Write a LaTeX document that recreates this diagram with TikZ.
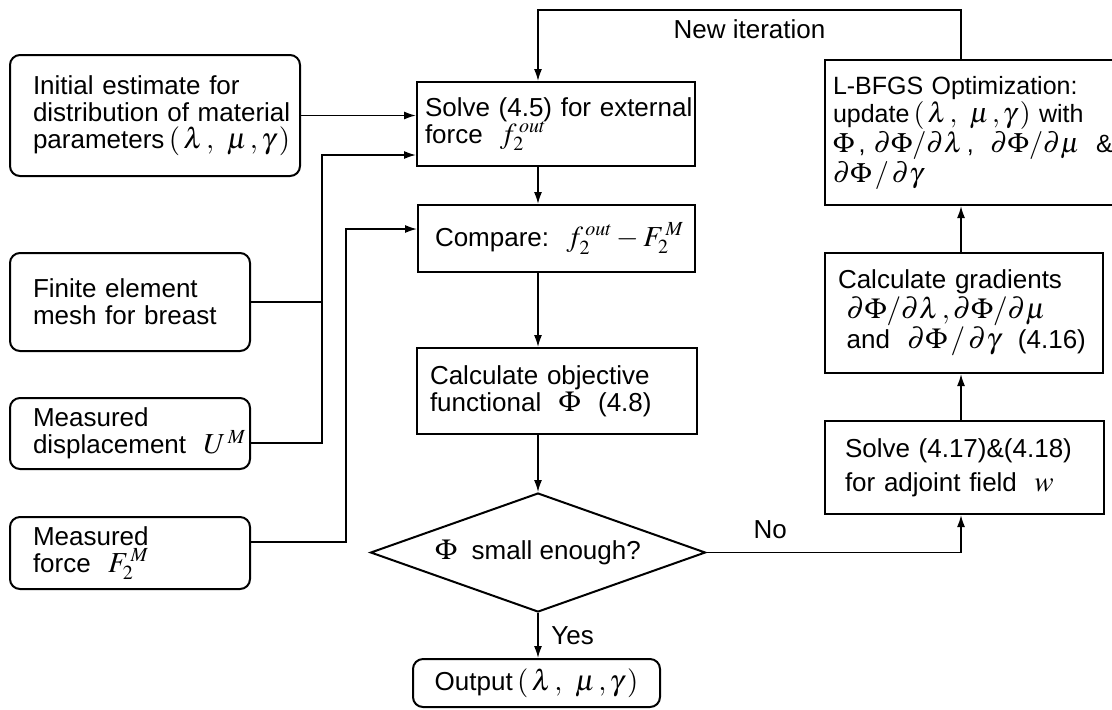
\documentclass[tikz,border=0pt]{standalone}
\usepackage{mathptmx}
\usepackage[no-math]{fontspec}
\setmainfont{Liberation Sans}
\usetikzlibrary{arrows.meta}
\usetikzlibrary{shapes.geometric}
\DeclareMathSizes{13}{14.5}{10}{8}
\DeclareMathSizes{12.5}{14}{10}{8}
\tikzset{
  box/.style={draw, line width=1pt, inner xsep=0pt, align=left},
  rbox/.style={box, rounded corners=5pt},
  arr/.style={-{Latex[length=6pt,width=4pt]}},
}

\begin{document}
\begin{tikzpicture}[x=0.5pt, y=-0.5pt, line width=0.8pt, font=\fontsize{13}{13.5}\selectfont]
      \useasboundingbox (0,0) rectangle (1112,709);
      \coordinate (ax) at (538,0);
      \coordinate (rx) at (961,0);
      \coordinate (topl) at (538,10);
      \coordinate (topr) at (961,10);
      \coordinate (ja) at (322,155);
      \coordinate (jb) at (346,229);

      \node[rbox, minimum width=145pt, minimum height=60.5pt, text width=122pt] (init) at (155,115.5)
        {\mbox{Initial estimate for}\\\mbox{distribution of material}\\\mbox{parameters\,$(\,\lambda\,,\;\,\mu\,,\gamma\,)$}};
      \node[rbox, minimum width=120pt, minimum height=49pt, text width=97pt] (fem) at (130,302)
        {\mbox{Finite element}\\\mbox{mesh for breast}};
      \node[rbox, minimum width=120pt, minimum height=35.5pt, text width=97pt] (disp) at (130,433.5)
        {Measured\\\mbox{displacement\ \ $U^{\,M}$}};
      \node[rbox, minimum width=120pt, minimum height=36pt, text width=97pt] (force) at (130,553)
        {Measured\\\mbox{force\ \ $F_2^{\,M}$}};

      \node[box, minimum width=139pt, minimum height=42pt, text width=131pt] (solve) at (556,124)
        {\mbox{Solve (4.5) for external}\\\mbox{force\ \ $f_2^{\,out}$}};
      \node[box, minimum width=138.5pt, minimum height=33.5pt, text width=121.5pt] (compare) at (556.5,238.5)
        {\mbox{Compare:\ \ $f_2^{\,out}-F_2^{\,M}$}};
      \node[box, minimum width=140pt, minimum height=43pt, text width=127pt] (calcobj) at (557,391)
        {\mbox{Calculate objective}\\\mbox{functional\ \ $\Phi$\ \ (4.8)}};
      \node[draw, diamond, aspect=2.8, line width=1pt, minimum width=167.5pt, minimum height=59.5pt, inner sep=0pt] (decide) at (538,552.5)
        {$\Phi$\ \ small enough?};
      \node[rbox, minimum width=123.5pt, minimum height=24pt] (output) at (536.5,683)
        {Output\,$(\,\lambda\,,\;\,\mu\,,\gamma\,)$};

      \node[box, minimum width=145pt, minimum height=72.5pt, text width=137pt, font=\fontsize{12.5}{11.5}\selectfont] (lbfgs) at (970,132.5)
        {\mbox{L-BFGS Optimization:}\\\mbox{update\,$(\,\lambda\,,\;\,\mu\,,\gamma\,)$ with}\\\mbox{$\Phi$\,,\ $\partial\Phi/\partial\lambda$\,,\ \ $\partial\Phi/\partial\mu$\ \ \&}\\$\partial\Phi\,/\,\partial\gamma$};
      \node[box, minimum width=139pt, minimum height=60pt, text width=126pt, font=\fontsize{13}{15}\selectfont] (calcgrad) at (964,313)
        {\mbox{Calculate gradients}\\\mbox{\ $\partial\Phi/\partial\lambda\,,\partial\Phi/\partial\mu$}\\\mbox{\ and\ \ $\partial\Phi\,/\,\partial\gamma$\ \ (4.16)}};
      \node[box, minimum width=139.5pt, minimum height=46.5pt, text width=119.5pt, font=\fontsize{13}{17}\selectfont] (adj) at (964.5,467.5)
        {\mbox{Solve (4.17)\&(4.18)}\\\mbox{for adjoint field\ \ $w$}};

      \draw[arr] (init.east) -- (init.east -| solve.west);
      \draw (fem.east) -- (fem.east -| ja);
      \draw[arr] ([yshift=-4.75pt]disp.east) -| (ja) -- (ja -| solve.west);
      \draw[arr] ([yshift=5.5pt]force.east) -| (jb) -- (jb -| compare.west);

      \draw[arr] (solve.south -| ax) -- (compare.north -| ax);
      \draw[arr] (compare.south -| ax) -- (calcobj.north -| ax);
      \draw[arr] (calcobj.south -| ax) -- (decide.north);
      \draw[arr] (decide.south) -- node[right=3pt] {Yes} (output.north -| ax);

      \draw[arr] (decide.east) -- node[above=3pt, pos=0.25] {No} (decide.east -| rx) -- (adj.south -| rx);
      \draw[arr] (adj.north -| rx) -- (calcgrad.south -| rx);
      \draw[arr] (calcgrad.north -| rx) -- (lbfgs.south -| rx);
      \draw[arr] (lbfgs.north -| rx) -- (topr) -- node[below=1pt] {New iteration} (topl) -- (solve.north -| ax);
\end{tikzpicture}
\end{document}
